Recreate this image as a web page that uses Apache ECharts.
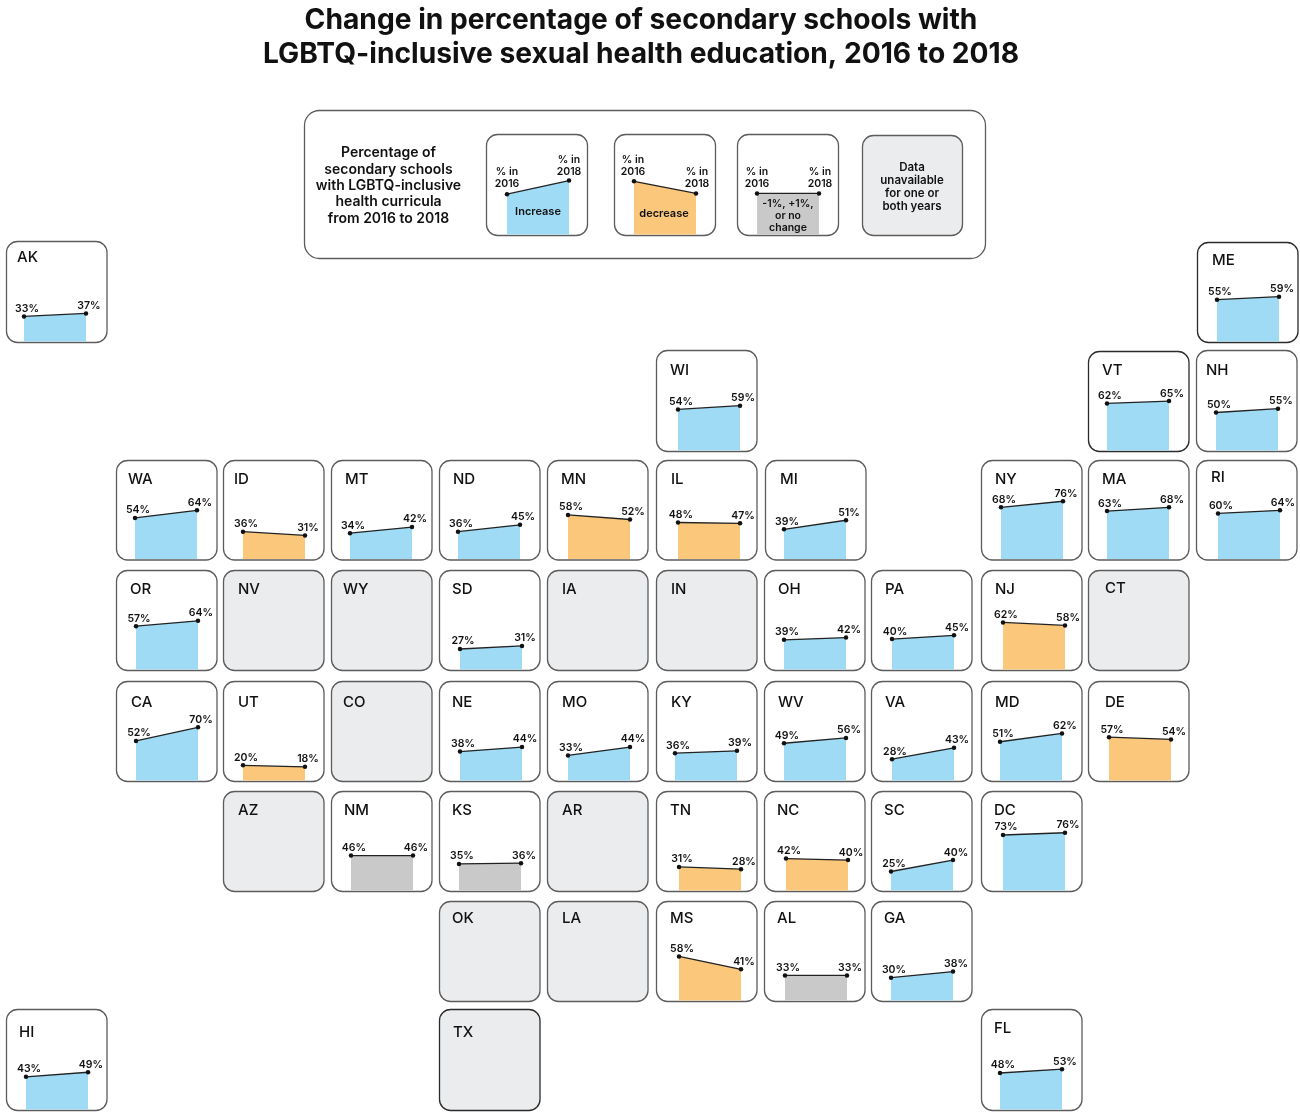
<!DOCTYPE html>
<html>
<head>
<meta charset="utf-8">
<title>LGBTQ-inclusive sexual health education</title>
<style>html,body{margin:0;padding:0;background:#fff}#chart{width:1300px;height:1112px}</style>
<script src="https://cdn.jsdelivr.net/npm/echarts@6/dist/echarts.min.js"></script>
</head>
<body>
<div id="chart"></div>
<script>
// Survey results by state; null marks a year with no data.
const states   = ['AK','ME','WI','VT','NH','WA','ID','MT','ND','MN','IL','MI','NY','MA','RI','OR','NV','WY','SD','IA','IN','OH','PA','NJ','CT','CA','UT','CO','NE','MO','KY','WV','VA','MD','DE','AZ','NM','KS','AR','TN','NC','SC','DC','OK','LA','MS','AL','GA','HI','TX','FL'];
const pct2016  = [33,55,54,62,50,54,36,34,36,58,48,39,68,63,60,57,null,null,27,null,null,39,40,62,null,52,20,null,38,33,36,49,28,51,57,null,46,35,null,31,42,25,73,null,null,58,33,30,43,null,48];
const pct2018  = [37,59,59,65,55,64,31,42,45,52,47,51,76,68,64,64,null,null,31,null,null,42,45,58,null,70,18,null,44,44,39,56,43,62,54,null,46,36,null,28,40,40,76,null,null,41,33,38,49,null,53];
const years    = ['2016','2018'];
const titleLines = ['Change in percentage of secondary schools with','LGBTQ-inclusive sexual health education, 2016 to 2018'];

// Sample shapes for the key tiles.
const keyIncrease = [53,71];
const keyDecrease = [70,54];
const keyFlat     = [54,54];

// Tile placement: left, top, left edge of plot, state-name x, state-name y, height.
const tileLayout = {
  AK:[6,241,24,17,257,101], ME:[1197,242,1217,1212,260,100], WI:[656,350,678,670,370,101], VT:[1088,351,1107,1102,370,100], NH:[1196,350,1216,1206,370,101],
  WA:[116,460,135,128,479,99.5], ID:[223,460,243,234,479,99.5], MT:[331,460,350,345,479,99.5], ND:[439,460,458,453,479,99.5], MN:[547,460,568,561,479,99.5], IL:[656,460,678,671,479,99.5], MI:[765,460,784,780,479,99.5], NY:[981,460,1001,995,479,99.5], MA:[1088,460,1107,1102,479,99.5], RI:[1196,460,1218,1211,477,99.5],
  OR:[116,570,136,130,589,100], NV:[223,570,243,238,589,100], WY:[331,570,351,343,589,100], SD:[439,570,460,452,589,100], IA:[547,570,568,562,589,100], IN:[656,570,676,671,589,100], OH:[764,570,784,778,589,100], PA:[871,570,892,885,589,100], NJ:[981,570,1003,995,589,100], CT:[1088,570,1108,1105,588,100],
  CA:[116,681,136,131,702,100], UT:[223,681,243,238,702,100], CO:[331,681,351,343,702,100], NE:[439,681,460,452,702,100], MO:[547,681,568,562,702,100], KY:[656,681,675,671,702,100], WV:[764,681,784,778,702,100], VA:[871,681,892,885,702,100], MD:[981,681,1000,995,702,100], DE:[1088,681,1109,1105,702,100],
  AZ:[223,791,243,238,810,100], NM:[331,791,351,344,810,100], KS:[439,791,459,452,810,100], AR:[547,791,567,562,810,100], TN:[656,791,679,670,810,100], NC:[764,791,786,777,810,100], SC:[871,791,891,884,810,100], DC:[981,791,1003,994,810,100],
  OK:[439,901,459,452,918,100], LA:[547,901,567,562,918,100], MS:[656,901,679,670,918,100], AL:[764,901,785,777,918,100], GA:[871,901,891,884,918,100],
  HI:[6,1009,26,19,1032,101], TX:[439,1009,459,453,1032,101], FL:[981,1009,1000,994,1028,101]
};
const tileW = 100.5, plotW = 62, plotH = 76;
const FONT = 'Inter, "Noto Sans", sans-serif';
const BLUE = '#a0dbf5', ORANGE = '#fbc77b', GRAY = '#c9c9c9', NODATA = '#ebecee';
const DARK_EDGE = ['ME','VT','TX'];

const grids = [], xAxes = [], yAxes = [], series = [], graphics = [];

function frame(x, y, w, h, fill, r, edge) {
  graphics.push({type:'rect', z:-5, shape:{x:x+0.5, y:y+0.5, width:w, height:h, r:r||11},
    style:{fill:fill||'#fff', stroke:edge||'#5c5c5c', lineWidth:1.3}});
}
function caption(str, x, y, size, weight, align) {
  graphics.push({type:'text', z:5, x:x, y:y, style:{text:str, font:`${weight||500} ${size}px ${FONT}`, fill:'#111', align:align||'center', verticalAlign:'middle'}});
}
function plot(values, left, bottom, showLabels) {
  const i = grids.length;
  const diff = values[1]-values[0];
  const fill = diff > 1 ? BLUE : diff < 0 ? ORANGE : GRAY;
  grids.push({left:left, top:bottom-plotH, width:plotW, height:plotH});
  xAxes.push({type:'category', gridIndex:i, data:years, boundaryGap:false, show:false});
  yAxes.push({type:'value', gridIndex:i, min:0, max:100, show:false});
  series.push({
    type:'line', xAxisIndex:i, yAxisIndex:i, data:values, silent:true, animation:false,
    symbol:'circle', symbolSize:4.5, showSymbol:true,
    lineStyle:{color:'#222', width:1.3}, itemStyle:{color:'#111'},
    areaStyle:{color:fill, opacity:1},
    label:{show:showLabels, position:'top', distance:3, offset:[3,3], formatter:p=>p.value+'%',
      fontFamily:FONT, fontWeight:600, fontSize:10.5, color:'#111'}
  });
}

// One tile per state, grey when a year is missing.
states.forEach((st, k) => {
  const [x, y, px, nx, ny, h] = tileLayout[st];
  const a = pct2016[k], b = pct2018[k];
  const missing = a === null || b === null;
  frame(x, y, tileW, h, missing ? NODATA : '#fff', 11, DARK_EDGE.includes(st) ? '#2b2b2b' : null);
  caption(st, nx, ny, 15, 500, 'left');
  if (!missing) plot([a,b], px, y+h-0.5, true);
});

// Key panel.
frame(304, 110, 681, 148, '#fff', 15);
['Percentage of','secondary schools','with LGBTQ-inclusive','health curricula','from 2016 to 2018'].forEach((t,i)=>caption(t, 388.5, 153+i*16.4, 14, 600));
frame(486, 134, 101, 101); plot(keyIncrease, 507, 234.5, false);
frame(614, 134, 101, 101); plot(keyDecrease, 634, 234.5, false);
frame(737, 134, 101, 101); plot(keyFlat, 757, 234.5, false);
frame(862, 135, 100, 100, NODATA);
const pctIn = '% in';
[[507,172,'2016'],[569,160,'2018'],[633,160,'2016'],[697,172,'2018'],[757,172,'2016'],[820,172,'2018']].forEach(([x,y,yr])=>{
  caption(pctIn, x, y, 10.5, 600);
  caption(yr, x, y+12, 10.5, 600);
});
caption('Increase', 538, 212, 11, 600);
caption('decrease', 664, 214, 11, 600);
['-1%, +1%,','or no','change'].forEach((t,i)=>caption(t, 788, 204+i*12, 10.5, 600));
['Data','unavailable','for one or','both years'].forEach((t,i)=>caption(t, 912, 168+i*12.8, 11.5, 600));

const chart = echarts.init(document.getElementById('chart'), null, {renderer:'canvas'});
chart.setOption({
  animation:false,
  backgroundColor:'#fff',
  title:{text:titleLines.join('\n'), left:636, top:-1, textAlign:'center',
    textStyle:{fontFamily:FONT, fontWeight:700, fontSize:28.2, lineHeight:34, color:'#111'}},
  grid:grids, xAxis:xAxes, yAxis:yAxes, series:series, graphic:graphics
});
</script>
</body>
</html>
